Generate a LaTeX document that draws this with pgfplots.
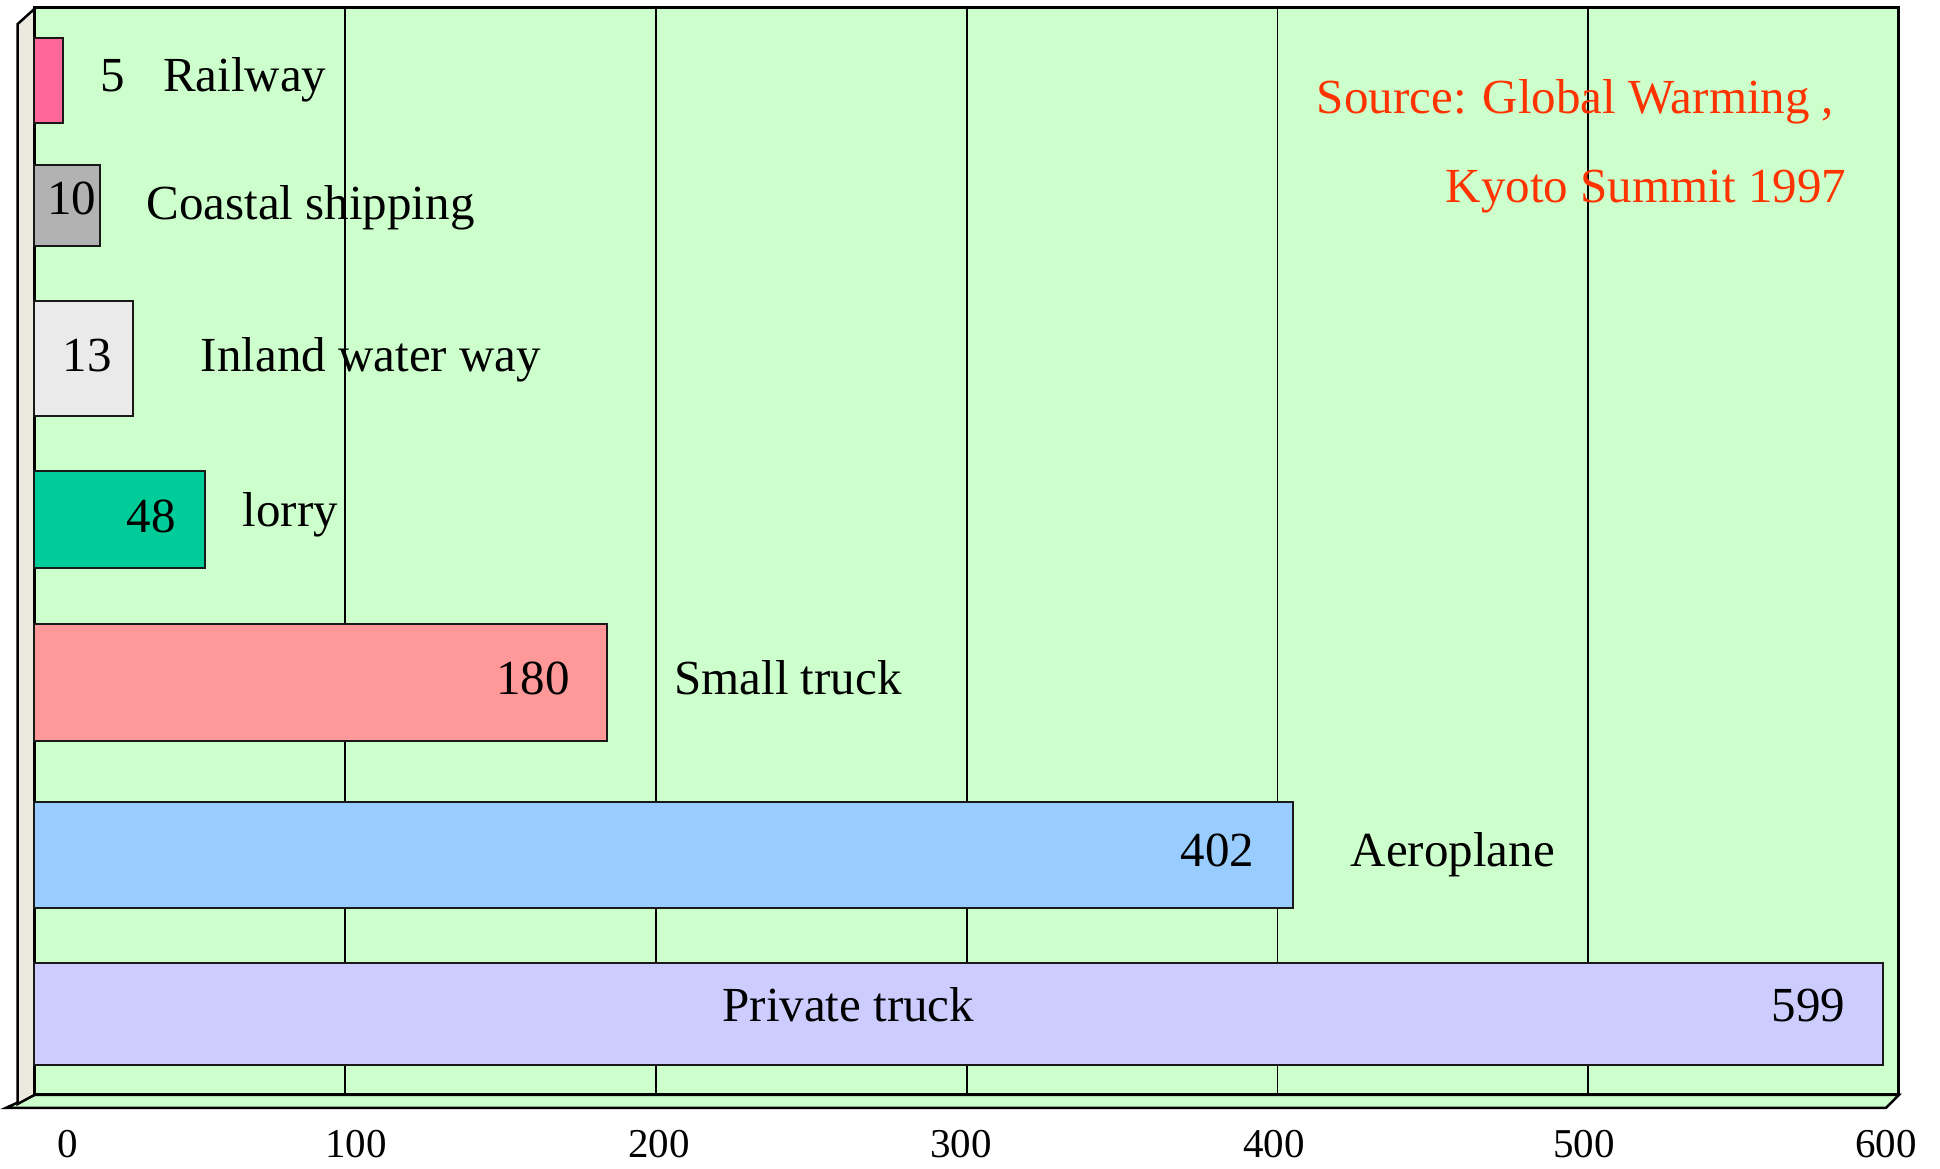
\documentclass[border=0pt]{standalone}
\usepackage{fontspec}
\setmainfont{Liberation Serif}
\usepackage{pgfplots}
\pgfplotsset{compat=1.18}
\definecolor{bggreen}{HTML}{CCFFCC}
\definecolor{crail}{HTML}{FF6699}
\definecolor{ccoast}{HTML}{B2B2B2}
\definecolor{cinland}{HTML}{EAEAEA}
\definecolor{clorry}{HTML}{00CC99}
\definecolor{csmall}{HTML}{FF9999}
\definecolor{caero}{HTML}{99CCFF}
\definecolor{cpriv}{HTML}{CCCCFF}
\definecolor{csrc}{HTML}{FF3300}
\definecolor{cwall}{HTML}{ECE9DF}
\tikzset{lbl/.style={inner sep=0pt, font=\fontsize{9.8}{12}\selectfont}}
\begin{document}
\begin{tikzpicture}
\begin{axis}[
  scale only axis,
  width=372.94pt, height=217.5pt,
  xmin=0, xmax=600, ymin=0, ymax=1087.5,
  clip=false,
  axis background/.style={fill=bggreen},
  axis line style={line width=0.6pt},
  xtick={10.8,103.5,201,298.2,398.9,498.6,595.8},
  xticklabels={\textrm{0},\textrm{100},\textrm{200},\textrm{300},\textrm{400},\textrm{500},\textrm{600}},
  xticklabel style={anchor=base, inner sep=0pt, yshift=-12.6pt, font=\fontsize{8.2}{10}\selectfont},
  major tick length=0pt,
  extra x ticks={100,200,300,400,500},
  extra x tick labels={},
  extra x tick style={grid=major, major tick length=0pt},
  grid style={black, line width=0.35pt},
  ytick=\empty,
]
% invisible frame that fixes the picture size
\path (axis cs:-11.04,-74) rectangle (axis cs:613.2,1095);
% floor
\addplot[fill=bggreen, draw=black, line width=0.5pt] coordinates {(0,0) (600,0) (595.8,-13) (-9.2,-13)} --cycle;
% left wall
\addplot[fill=cwall, draw=black, line width=0.5pt] coordinates {(0,0) (0,1086) (-5.34,1071) (-5.34,-9)} --cycle;
% bars (drawn lengths)
\addplot[fill=crail, draw=black!90, line width=0.4pt] coordinates {(0,972.3) (9.3,972.3) (9.3,1057.3) (0,1057.3)} --cycle;
\addplot[fill=ccoast, draw=black!90, line width=0.4pt] coordinates {(0,849.3) (21.2,849.3) (21.2,930.3) (0,930.3)} --cycle;
\addplot[fill=cinland, draw=black!90, line width=0.4pt] coordinates {(0,679.3) (31.8,679.3) (31.8,794) (0,794)} --cycle;
\addplot[fill=clorry, draw=black!90, line width=0.4pt] coordinates {(0,526.7) (54.9,526.7) (54.9,623.7) (0,623.7)} --cycle;
\addplot[fill=csmall, draw=black!90, line width=0.4pt] coordinates {(0,354) (184.2,354) (184.2,471.3) (0,471.3)} --cycle;
\addplot[fill=caero, draw=black!90, line width=0.4pt] coordinates {(0,186.7) (405.1,186.7) (405.1,292.7) (0,292.7)} --cycle;
\addplot[fill=cpriv, draw=black!90, line width=0.4pt] coordinates {(0,30) (594.7,30) (594.7,131.7) (0,131.7)} --cycle;
% labels
\node[lbl, anchor=base] at (axis cs:25.3,1003.3) {5};
\node[lbl, anchor=base] at (axis cs:67.7,1003.3) {Railway};
\node[lbl, anchor=base] at (axis cs:12.0,880) {10};
\node[lbl, anchor=base west] at (axis cs:35.8,875) {Coastal shipping};
\node[lbl, anchor=base] at (axis cs:17.0,723.3) {13};
\node[lbl, anchor=base west] at (axis cs:53.3,723.3) {Inland water way};
\node[lbl, anchor=base] at (axis cs:37.6,562.3) {48};
\node[lbl, anchor=base west] at (axis cs:66.7,568) {lorry};
\node[lbl, anchor=base] at (axis cs:160.5,400) {180};
\node[lbl, anchor=base west] at (axis cs:205.6,400) {Small truck};
\node[lbl, anchor=base] at (axis cs:380.7,228.3) {402};
\node[lbl, anchor=base west] at (axis cs:423.3,228.3) {Aeroplane};
\node[lbl, anchor=base west] at (axis cs:221.1,73) {Private truck};
\node[lbl, anchor=base east] at (axis cs:583,73) {599};
\node[lbl, anchor=base west, text=csrc] at (axis cs:412.4,981.7) {Source: Global Warming ,};
\node[lbl, anchor=base west, text=csrc] at (axis cs:453.9,892.3) {Kyoto Summit 1997};
\end{axis}
\end{tikzpicture}
\end{document}
